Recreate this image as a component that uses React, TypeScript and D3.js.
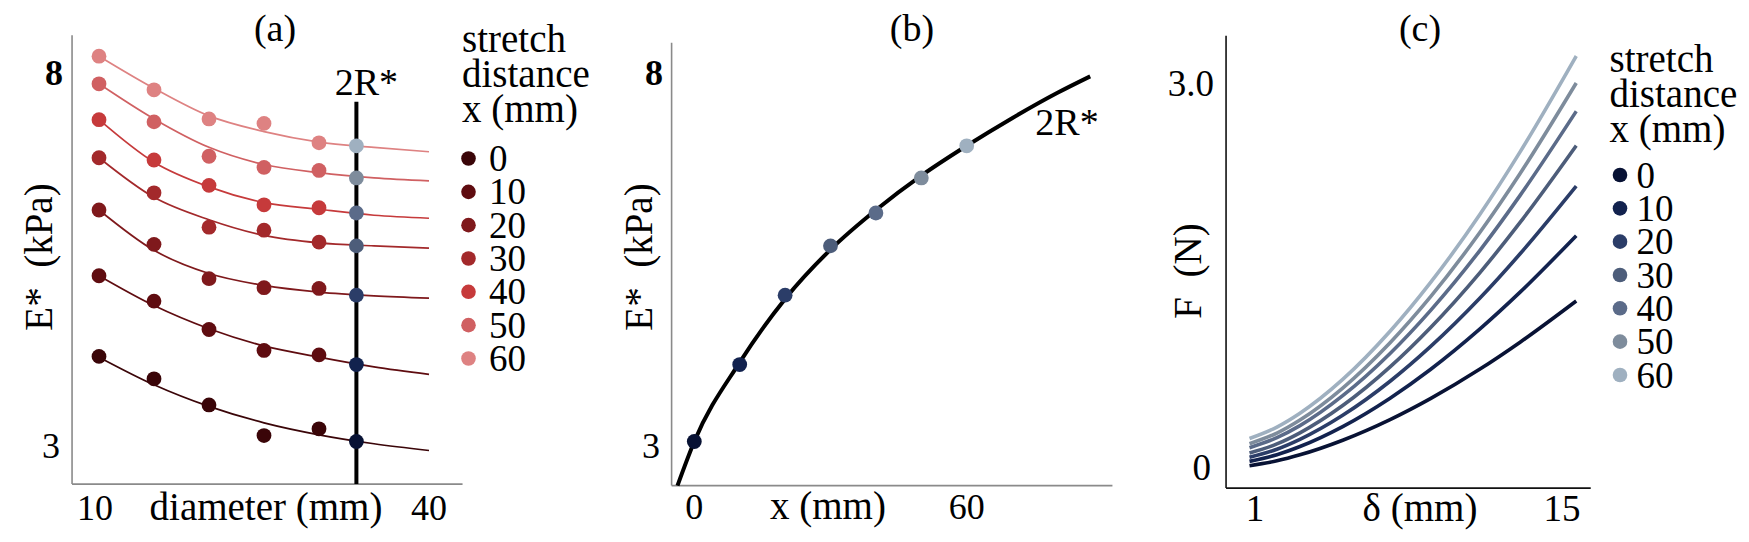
import React from "react";
import * as d3 from "d3";

// ---- data ----
const stretchDistances = [0, 10, 20, 30, 40, 50, 60];
const redColors = ["#3a0508", "#5f0c10", "#7f191c", "#a3292b", "#c63a3b", "#d06062", "#de8282"];
const blueColors = ["#081234", "#12224e", "#2b3d68", "#4d5d7a", "#5b6b89", "#7e8c9c", "#9fb0c0"];

// (a) measured E* vs indenter diameter, one row per stretch distance
const diameters = [10, 15, 20, 25, 30];
const measuredE = [
    [4.2, 3.9, 3.55, 3.14, 3.23],
    [5.28, 4.94, 4.56, 4.28, 4.22],
    [6.16, 5.7, 5.24, 5.12, 5.11],
    [6.86, 6.39, 5.93, 5.89, 5.73],
    [7.37, 6.83, 6.49, 6.23, 6.19],
    [7.85, 7.34, 6.88, 6.73, 6.69],
    [8.22, 7.77, 7.38, 7.32, 7.06],
];
const fitDiameters = [10, 15, 20, 25, 30, 35, 40];
const fitE = [
    [4.19, 3.82, 3.53, 3.31, 3.15, 3.03, 2.94],
    [5.28, 4.88, 4.57, 4.34, 4.19, 4.06, 3.96],
    [6.16, 5.62, 5.31, 5.15, 5.06, 5.01, 4.98],
    [6.86, 6.33, 6.03, 5.82, 5.72, 5.68, 5.65],
    [7.37, 6.8, 6.47, 6.26, 6.17, 6.09, 6.05],
    [7.85, 7.38, 7.0, 6.77, 6.66, 6.59, 6.55],
    [8.22, 7.79, 7.42, 7.21, 7.07, 7.0, 6.94],
];
const twoRStar = 33.4;
const eAt2R = [3.06, 4.09, 5.02, 5.68, 6.12, 6.59, 7.02];

// (b) fitted E* at 2R* vs stretch distance
const curveX = [-3.7, 0, 10, 20, 30, 40, 50, 60, 70, 80, 87.2];
const curveE = [2.47, 3.06, 4.12, 4.97, 5.63, 6.16, 6.62, 7.02, 7.39, 7.73, 7.95];

// (c) force vs indentation depth, one row per stretch distance
const deltas = [0.75, 2, 3.05, 5, 7.16, 9, 11.26, 13.09, 15.65];
const forces = [
    [0.01, 0.048, 0.095, 0.209, 0.37, 0.534, 0.765, 0.975, 1.297],
    [0.044, 0.096, 0.16, 0.316, 0.538, 0.762, 1.079, 1.366, 1.807],
    [0.077, 0.139, 0.216, 0.404, 0.67, 0.94, 1.32, 1.666, 2.195],
    [0.109, 0.18, 0.267, 0.48, 0.782, 1.088, 1.519, 1.911, 2.511],
    [0.151, 0.229, 0.323, 0.557, 0.887, 1.222, 1.693, 2.122, 2.779],
    [0.182, 0.265, 0.367, 0.617, 0.971, 1.329, 1.834, 2.293, 3.0],
    [0.223, 0.312, 0.42, 0.684, 1.06, 1.44, 1.975, 2.462, 3.211],
];

const FONT = "'Liberation Serif', 'Times New Roman', serif";

function Legend({ x, titleY, itemY, colors, dotDx, textDx }) {
    return (
        <g>
            {["stretch", "distance", "x (mm)"].map((t, i) => (
                <text key={t} x={x} y={titleY + i * 35} fontSize={39}>
                    {t}
                </text>
            ))}
            {stretchDistances.map((d, i) => (
                <g key={d} transform={`translate(${x},${itemY + i * 33.33})`}>
                    <circle cx={dotDx} r={7.3} fill={colors[i]} />
                    <text x={textDx} dy="0.34em" fontSize={37}>
                        {d}
                    </text>
                </g>
            ))}
        </g>
    );
}

export default function App() {
    const xA = d3.scaleLinear().domain([10, 40]).range([99, 429]);
    const yE = d3.scaleLinear().domain([3, 8]).range([446, 72.6]);
    const xB = d3.scaleLinear().domain([0, 60]).range([694.3, 966.7]);
    const xC = d3.scaleLinear().domain([1, 15]).range([1255, 1562]);
    const yC = d3.scaleLinear().domain([0, 3]).range([467, 83]);

    const lineA = d3
        .line<number>()
        .x((_, i) => xA(fitDiameters[i]))
        .y((d) => yE(d))
        .curve(d3.curveMonotoneX);
    const lineB = d3
        .line<number>()
        .x((_, i) => xB(curveX[i]))
        .y((d) => yE(d))
        .curve(d3.curveMonotoneX);
    const lineC = d3
        .line<number>()
        .x((_, i) => xC(deltas[i]))
        .y((d) => yC(d))
        .curve(d3.curveMonotoneX);

    const gray = "#8a8a8a";

    return (
        <svg
            width={1749}
            height={542}
            style={{ position: "absolute", left: 0, top: 0, background: "#fff" }}
            fontFamily={FONT}
        >
            {/* ---------- (a) ---------- */}
            <text x={275} y={41} fontSize={38} textAnchor="middle">(a)</text>
            <line x1={xA(7.55)} x2={xA(7.55)} y1={yE(8.5)} y2={yE(2.49)} stroke={gray} strokeWidth={1.6} />
            <line x1={xA(7.55)} x2={xA(43.05)} y1={yE(2.49)} y2={yE(2.49)} stroke={gray} strokeWidth={1.6} />
            <text x={54} y={yE(8)} dy="0.34em" fontSize={36} fontWeight="bold" textAnchor="middle">8</text>
            <text x={51} y={yE(3)} dy="0.34em" fontSize={36} textAnchor="middle">3</text>
            <text x={xA(10) - 4} y={520} fontSize={36} textAnchor="middle">10</text>
            <text x={xA(40)} y={520} fontSize={36} textAnchor="middle">40</text>
            <text x={266} y={520} fontSize={39} textAnchor="middle">diameter (mm)</text>
            <text
                transform="translate(40,257) rotate(-90)"
                dy="0.32em"
                fontSize={39}
                textAnchor="middle"
                style={{ whiteSpace: "pre" }}
            >
                {"E*  (kPa)"}
            </text>
            {fitE.map((row, i) => (
                <path key={i} d={lineA(row) || ""} fill="none" stroke={redColors[i]} strokeWidth={1.7} />
            ))}
            {measuredE.map((row, i) =>
                row.map((v, j) => (
                    <circle key={`${i}-${j}`} cx={xA(diameters[j])} cy={yE(v)} r={7.4} fill={redColors[i]} />
                ))
            )}
            <line x1={xA(twoRStar)} x2={xA(twoRStar)} y1={yE(7.61)} y2={yE(2.49)} stroke="#000" strokeWidth={4} />
            <text x={xA(twoRStar) + 10} y={95} fontSize={38} textAnchor="middle">2R*</text>
            {eAt2R.map((v, i) => (
                <circle key={i} cx={xA(twoRStar)} cy={yE(v)} r={7.4} fill={blueColors[i]} />
            ))}
            <Legend x={462} titleY={52} itemY={158.5} colors={redColors} dotDx={6.5} textDx={27} />

            {/* ---------- (b) ---------- */}
            <text x={912} y={41} fontSize={38} textAnchor="middle">(b)</text>
            <line x1={xB(-5)} x2={xB(-5)} y1={yE(8.4)} y2={yE(2.47)} stroke={gray} strokeWidth={1.6} />
            <line x1={xB(-5)} x2={xB(92.1)} y1={yE(2.47)} y2={yE(2.47)} stroke={gray} strokeWidth={1.6} />
            <text x={654} y={yE(8)} dy="0.34em" fontSize={36} fontWeight="bold" textAnchor="middle">8</text>
            <text x={651} y={yE(3)} dy="0.34em" fontSize={36} textAnchor="middle">3</text>
            <text x={xB(0)} y={519} fontSize={36} textAnchor="middle">0</text>
            <text x={xB(60)} y={519} fontSize={36} textAnchor="middle">60</text>
            <text x={828} y={519} fontSize={39} textAnchor="middle">x (mm)</text>
            <text
                transform="translate(640,257) rotate(-90)"
                dy="0.32em"
                fontSize={39}
                textAnchor="middle"
                style={{ whiteSpace: "pre" }}
            >
                {"E*  (kPa)"}
            </text>
            <path d={lineB(curveE) || ""} fill="none" stroke="#000" strokeWidth={4} />
            {eAt2R.map((v, i) => (
                <circle key={i} cx={xB(stretchDistances[i])} cy={yE(v)} r={7.4} fill={blueColors[i]} />
            ))}
            <text x={1067} y={135} fontSize={38} textAnchor="middle">2R*</text>

            {/* ---------- (c) ---------- */}
            <text x={1420} y={41} fontSize={38} textAnchor="middle">(c)</text>
            <line x1={xC(-0.32)} x2={xC(-0.32)} y1={yC(3.37)} y2={yC(-0.165)} stroke="#111" strokeWidth={1.6} />
            <line x1={xC(-0.32)} x2={xC(16.31)} y1={yC(-0.165)} y2={yC(-0.165)} stroke="#111" strokeWidth={1.6} />
            <text x={1214} y={yC(3)} dy="0.34em" fontSize={37} textAnchor="end">3.0</text>
            <text x={1211} y={yC(0)} dy="0.34em" fontSize={37} textAnchor="end">0</text>
            <text x={xC(1)} y={521} fontSize={37} textAnchor="middle">1</text>
            <text x={xC(15)} y={521} fontSize={37} textAnchor="middle">15</text>
            <text x={1420} y={521} fontSize={39} textAnchor="middle">δ (mm)</text>
            <text
                transform="translate(1189,271) rotate(-90)"
                dy="0.32em"
                fontSize={39}
                textAnchor="middle"
                style={{ whiteSpace: "pre" }}
            >
                {"F  (N)"}
            </text>
            {forces.map((row, i) => (
                <path key={i} d={lineC(row) || ""} fill="none" stroke={blueColors[i]} strokeWidth={3.6} />
            ))}
            <Legend x={1609.5} titleY={72} itemY={175} colors={blueColors} dotDx={10.5} textDx={27} />
        </svg>
    );
}
